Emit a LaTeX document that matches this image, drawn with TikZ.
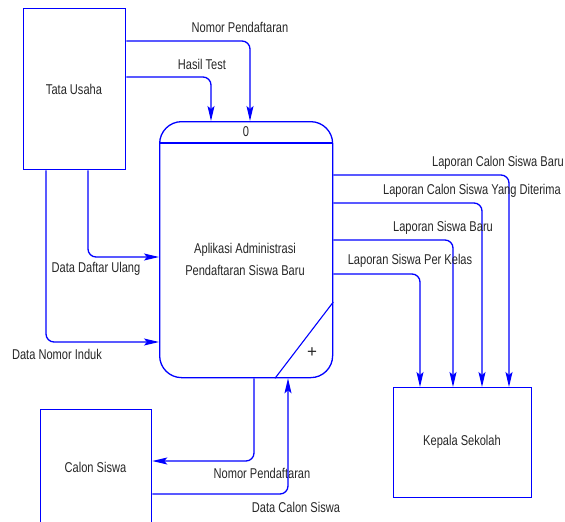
\documentclass[tikz,border=0pt]{standalone}
\usepackage{fontspec}
\setmainfont{Liberation Sans}
\usetikzlibrary{arrows.meta}
\newcommand{\dtxt}[1]{\scalebox{0.78}[1]{#1}}
\begin{document}
\begin{tikzpicture}[x=1pt,y=-1pt,
  every node/.style={font=\fontsize{14.2}{16}\selectfont, text=black!85, inner sep=0pt},
  ent/.style={draw=blue, line width=1.3pt, anchor=north west},
  proc/.style={draw=blue, line width=1.3pt, anchor=north west, rounded corners=22pt},
  flow/.style={draw=blue, line width=1.3pt, rounded corners=8pt, -{Stealth[length=15pt,width=7pt,inset=3pt]}},
  lbl/.style={}
]
\useasboundingbox (0,0) rectangle (565,522);
\clip (0,0) rectangle (565,522);
% entities
\node[ent, minimum width=102pt, minimum height=161pt] (tu) at (23,8) {};
\node (tut) at (74,89) {\dtxt{Tata Usaha}};
\node[ent, minimum width=111pt, minimum height=116pt] (cs) at (40,409) {};
\node (cst) at (95.5,467) {\dtxt{Calon Siswa}};
\node[ent, minimum width=138pt, minimum height=110pt] (ks) at (393,387) {};
\node (kst) at (462,442) {\dtxt{Kepala Sekolah}};
% process
\node[proc, minimum width=173pt, minimum height=256pt] (p) at (159,121) {};
\draw[blue, line width=1.3pt] (p.west |- 0,143) -- (p.east |- 0,143);
\node (pid) at (246,132) {\dtxt{0}};
\node (pt1) at (245,250) {\dtxt{Aplikasi Administrasi}};
\node (pt2) at (245,270) {\dtxt{Pendaftaran Siswa Baru}};
\draw[blue, line width=1.1pt] (p.south -| 275,0) -- (p.east |- 0,302);
\node[font=\fontsize{17}{18}\selectfont] (plus) at (312,353) {+};
% flows from Tata Usaha
\draw[flow] (tu.east |- 0,41) -| (p.north -| 250,0);
\node (l1) at (240,27) {\dtxt{Nomor Pendaftaran}};
\draw[flow] (tu.east |- 0,77) -| (p.north -| 211,0);
\node (l2) at (202,64) {\dtxt{Hasil Test}};
\draw[flow] (tu.south -| 88,0) |- (p.west |- 0,257);
\node (l3) at (96,269) {\dtxt{Data Daftar Ulang}};
\draw[flow] (tu.south -| 46,0) |- (p.west |- 0,342);
\node (l4) at (57,354) {\dtxt{Data Nomor Induk}};
% flows to Kepala Sekolah
\draw[flow] (p.east |- 0,175) -| (ks.north -| 509,0);
\node (l5) at (498,163) {\dtxt{Laporan Calon Siswa Baru}};
\draw[flow] (p.east |- 0,203) -| (ks.north -| 482,0);
\node (l6) at (472,191) {\dtxt{Laporan Calon Siswa Yang Diterima}};
\draw[flow] (p.east |- 0,240) -| (ks.north -| 453,0);
\node (l7) at (443,228) {\dtxt{Laporan Siswa Baru}};
\draw[flow] (p.east |- 0,274) -| (ks.north -| 420,0);
\node (l8) at (410,261) {\dtxt{Laporan Siswa Per Kelas}};
% flows with Calon Siswa
\draw[flow] (p.south -| 254,0) |- (cs.east |- 0,461);
\node (l9) at (262,473) {\dtxt{Nomor Pendaftaran}};
\draw[flow] (cs.east |- 0,494) -| (p.south -| 288,0);
\node (l10) at (296,507) {\dtxt{Data Calon Siswa}};
\end{tikzpicture}
\end{document}
